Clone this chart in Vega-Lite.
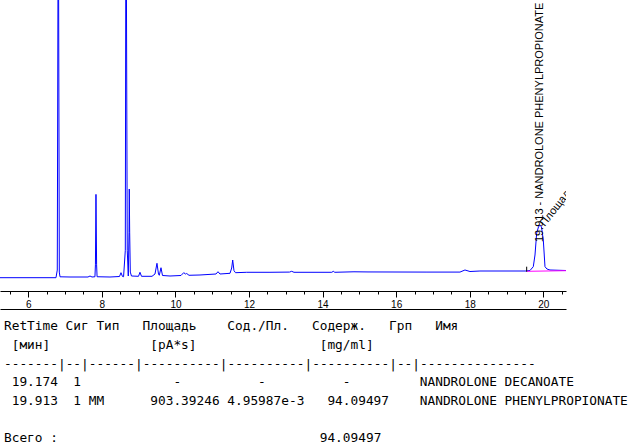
{
  "$schema": "https://vega.github.io/schema/vega-lite/v6.json",
  "padding": 0,
  "background": "white",
  "spacing": 2,
  "config": {"view": {"stroke": null}, "axis": {"grid": false, "title": null}},
  "vconcat": [
    {
      "width": 566,
      "height": 291,
      "resolve": {"axis": {"x": "independent"}},
      "layer": [
        {
          "data": {"values": [
            {"time": 5.231, "signal": 4.57}, {"time": 6.753, "signal": 4.57}, {"time": 6.788, "signal": 7.2},
            {"time": 6.816, "signal": 150}, {"time": 6.843, "signal": 6.5}, {"time": 6.862, "signal": 4.88},
            {"time": 7.134, "signal": 4.81}, {"time": 7.623, "signal": 4.81}, {"time": 7.677, "signal": 5.15},
            {"time": 7.732, "signal": 4.81}, {"time": 7.812, "signal": 4.9}, {"time": 7.825, "signal": 9},
            {"time": 7.84, "signal": 33.2}, {"time": 7.857, "signal": 9}, {"time": 7.87, "signal": 4.9},
            {"time": 8.221, "signal": 4.81}, {"time": 8.479, "signal": 4.98}, {"time": 8.52, "signal": 6.29},
            {"time": 8.561, "signal": 4.98}, {"time": 8.59, "signal": 4.9}, {"time": 8.637, "signal": 14},
            {"time": 8.656, "signal": 150}, {"time": 8.69, "signal": 14}, {"time": 8.718, "signal": 5.15},
            {"time": 8.738, "signal": 20}, {"time": 8.745, "signal": 35.05}, {"time": 8.756, "signal": 20},
            {"time": 8.773, "signal": 6.5}, {"time": 8.805, "signal": 5.15}, {"time": 8.996, "signal": 5.05},
            {"time": 9.036, "signal": 6.43}, {"time": 9.077, "signal": 5.05}, {"time": 9.363, "signal": 5.05},
            {"time": 9.444, "signal": 5.84}, {"time": 9.498, "signal": 9.52}, {"time": 9.539, "signal": 5.84},
            {"time": 9.561, "signal": 5.4}, {"time": 9.607, "signal": 8.0}, {"time": 9.648, "signal": 5.33},
            {"time": 9.852, "signal": 5.15}, {"time": 10.151, "signal": 5.33}, {"time": 10.224, "signal": 6.29},
            {"time": 10.273, "signal": 5.84}, {"time": 10.306, "signal": 6.01}, {"time": 10.368, "signal": 5.4},
            {"time": 10.667, "signal": 5.5}, {"time": 11.102, "signal": 5.84}, {"time": 11.157, "signal": 6.63},
            {"time": 11.211, "signal": 5.84}, {"time": 11.483, "signal": 6.08}, {"time": 11.529, "signal": 7.9},
            {"time": 11.556, "signal": 10.65}, {"time": 11.591, "signal": 7.0}, {"time": 11.632, "signal": 6.29},
            {"time": 11.937, "signal": 6.43}, {"time": 12.57, "signal": 6.43}, {"time": 13.1, "signal": 6.5},
            {"time": 13.16, "signal": 6.77}, {"time": 13.222, "signal": 6.43}, {"time": 14.25, "signal": 6.43},
            {"time": 14.29, "signal": 6.77}, {"time": 14.33, "signal": 6.43}, {"time": 14.853, "signal": 6.6},
            {"time": 15.234, "signal": 6.55}, {"time": 16.837, "signal": 6.5}, {"time": 17.734, "signal": 6.5},
            {"time": 17.87, "signal": 7.22}, {"time": 18.006, "signal": 6.7}, {"time": 18.277, "signal": 6.87},
            {"time": 19.528, "signal": 6.87}, {"time": 19.637, "signal": 7.04}, {"time": 19.727, "signal": 8.35},
            {"time": 19.773, "signal": 12.37}, {"time": 19.819, "signal": 19.9}, {"time": 19.868, "signal": 22.0},
            {"time": 19.909, "signal": 22.68}, {"time": 19.95, "signal": 22.0}, {"time": 19.999, "signal": 17.5},
            {"time": 20.045, "signal": 8.35}, {"time": 20.099, "signal": 7.56}, {"time": 20.181, "signal": 7.22},
            {"time": 20.616, "signal": 7.04}
          ]},
          "mark": {"type": "line", "color": "#0000ff", "strokeWidth": 1, "clip": true},
          "encoding": {
            "x": {"field": "time", "type": "quantitative",
              "scale": {"domain": [5.231, 20.616], "nice": false, "zero": false},
              "axis": {"orient": "bottom", "values": [6, 8, 10, 12, 14, 16, 18, 20], "tickSize": 6, "labelPadding": 2,
                "labelFontSize": 10, "labelFont": "Liberation Sans", "labelColor": "#000", "domainColor": "#000",
                "tickColor": "#000", "labelFlush": false, "labelOverlap": false, "grid": false, "title": null}},
            "y": {"field": "signal", "type": "quantitative",
              "scale": {"domain": [0, 100], "nice": false, "zero": false}, "axis": null}
          }
        },
        {
          "data": {"values": [{"time": 19.555, "signal": 6.77}, {"time": 20.616, "signal": 6.98}]},
          "mark": {"type": "line", "color": "#ff00ff", "strokeWidth": 1, "clip": true},
          "encoding": {
            "x": {"field": "time", "type": "quantitative",
              "axis": {"orient": "bottom", "values": [5.5, 6, 6.5, 7, 7.5, 8, 8.5, 9, 9.5, 10, 10.5, 11, 11.5, 12, 12.5, 13, 13.5, 14, 14.5, 15, 15.5, 16, 16.5, 17, 17.5, 18, 18.5, 19, 19.5, 20, 20.5],
                "tickSize": 3, "labels": false, "domain": false, "tickColor": "#000", "grid": false, "title": null}},
            "y": {"field": "signal", "type": "quantitative", "axis": null}
          }
        },
        {
          "data": {"values": [{"time": 19.547, "low": 6.63, "high": 8.35}]},
          "mark": {"type": "rule", "color": "#000000", "strokeWidth": 1},
          "encoding": {
            "x": {"field": "time", "type": "quantitative",
              "axis": {"orient": "bottom", "offset": 18, "ticks": false, "labels": false, "domain": true,
                "domainColor": "#000", "grid": false, "title": null}},
            "y": {"field": "low", "type": "quantitative", "axis": null},
            "y2": {"field": "high"}
          }
        },
        {
          "data": {"values": [{"time": 19.913, "signal": 16.8, "label": "19.913 - NANDROLONE PHENYLPROPIONATE"}]},
          "mark": {"type": "text", "angle": 270, "align": "left", "baseline": "middle", "font": "Liberation Sans",
            "fontSize": 11, "color": "#000000", "clip": true},
          "encoding": {
            "x": {"field": "time", "type": "quantitative", "axis": null},
            "y": {"field": "signal", "type": "quantitative", "axis": null},
            "text": {"field": "label"}
          }
        },
        {
          "data": {"values": [{"time": 20.04, "signal": 22.0, "label": "Площадь: 903.39246"}]},
          "mark": {"type": "text", "angle": 308, "align": "left", "baseline": "alphabetic", "font": "Liberation Sans",
            "fontSize": 11, "color": "#000000", "clip": true},
          "encoding": {
            "x": {"field": "time", "type": "quantitative", "axis": null},
            "y": {"field": "signal", "type": "quantitative", "axis": null},
            "text": {"field": "label"}
          }
        }
      ]
    },
    {
      "width": 628,
      "height": 136,
      "data": {"values": [
        {"line": 0, "col": 0, "text": "RetTime"},
        {"line": 0, "col": 8, "text": "Сиг"},
        {"line": 0, "col": 12, "text": "Тип"},
        {"line": 0, "col": 18, "text": "Площадь"},
        {"line": 0, "col": 29, "text": "Сод./Пл."},
        {"line": 0, "col": 40, "text": "Содерж."},
        {"line": 0, "col": 50, "text": "Грп"},
        {"line": 0, "col": 56, "text": "Имя"},
        {"line": 1, "col": 1, "text": "[мин]"},
        {"line": 1, "col": 19, "text": "[pA*s]"},
        {"line": 1, "col": 41, "text": "[mg/ml]"},
        {"line": 2, "col": 0, "text": "-------|--|------|----------|----------|----------|--|---------------"},
        {"line": 3, "col": 1, "text": "19.174"},
        {"line": 3, "col": 9, "text": "1"},
        {"line": 3, "col": 22, "text": "-"},
        {"line": 3, "col": 33, "text": "-"},
        {"line": 3, "col": 44, "text": "-"},
        {"line": 3, "col": 54, "text": "NANDROLONE DECANOATE"},
        {"line": 4, "col": 1, "text": "19.913"},
        {"line": 4, "col": 9, "text": "1"},
        {"line": 4, "col": 11, "text": "MM"},
        {"line": 4, "col": 19, "text": "903.39246"},
        {"line": 4, "col": 29, "text": "4.95987e-3"},
        {"line": 4, "col": 42, "text": "94.09497"},
        {"line": 4, "col": 54, "text": "NANDROLONE PHENYLPROPIONATE"},
        {"line": 6, "col": 0, "text": "Всего :"},
        {"line": 6, "col": 41, "text": "94.09497"}
      ]},
      "mark": {"type": "text", "align": "left", "baseline": "middle", "font": "DejaVu Sans Mono", "fontSize": 12.8, "color": "#000000"},
      "encoding": {
        "x": {"field": "col", "type": "quantitative", "scale": {"domain": [-0.519, 81.039], "nice": false, "zero": false}, "axis": null},
        "y": {"field": "line", "type": "quantitative", "scale": {"domain": [6.478, -0.833], "nice": false, "zero": false}, "axis": null},
        "text": {"field": "text"}
      }
    }
  ]
}
